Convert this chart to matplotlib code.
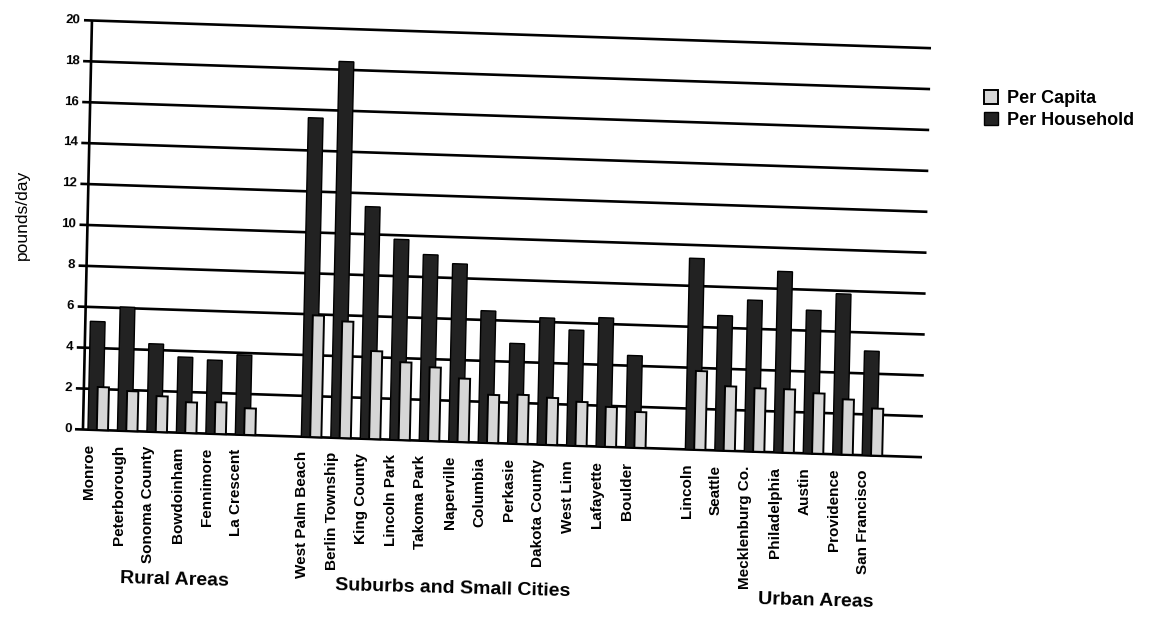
import numpy as np
import matplotlib
matplotlib.use('Agg')
import matplotlib.pyplot as plt
from matplotlib.transforms import Affine2D

plt.rcParams['font.family'] = ['Liberation Sans', 'DejaVu Sans']

# pounds/day
rural = ['Monroe', 'Peterborough', 'Sonoma County', 'Bowdoinham', 'Fennimore', 'La Crescent']
rural_household = [5.3, 6.05, 4.3, 3.7, 3.6, 3.9]
rural_capita = [2.1, 1.95, 1.75, 1.5, 1.55, 1.3]

suburbs = ['West Palm Beach', 'Berlin Township', 'King County', 'Lincoln Park',
           'Takoma Park', 'Naperville', 'Columbia', 'Perkasie', 'Dakota County',
           'West Linn', 'Lafayette', 'Boulder']
suburbs_household = [15.6, 18.4, 11.35, 9.8, 9.1, 8.7, 6.45, 4.9, 6.2, 5.65, 6.3, 4.5]
suburbs_capita = [5.95, 5.7, 4.3, 3.8, 3.6, 3.1, 2.35, 2.4, 2.3, 2.15, 1.95, 1.75]

urban = ['Lincoln', 'Seattle', 'Mecklenburg Co.', 'Philadelphia', 'Austin',
         'Providence', 'San Francisco']
urban_household = [9.35, 6.6, 7.4, 8.85, 7.0, 7.85, 5.1]
urban_capita = [3.85, 3.15, 3.1, 3.1, 2.95, 2.7, 2.3]

group_names = ['Rural Areas', 'Suburbs and Small Cities', 'Urban Areas']
yticks = np.arange(0, 21, 2)

groups = [(rural, rural_household, rural_capita),
          (suburbs, suburbs_household, suburbs_capita),
          (urban, urban_household, urban_capita)]
group_start = [0, 7.24, 20.27]
group_label_x = [3.06, 12.5, 24.8]

fig = plt.figure(figsize=(11.57, 6.34), dpi=100)
ax = fig.add_axes([75 / 1157, 198 / 634, 847 / 1157, 409 / 634])
ax.axis('off')

# the scanned page is skewed: gridlines fall to the right, verticals lean right
skew = (Affine2D().translate(-280, -198)
        + Affine2D(np.array([[1, 0.022, 0], [-0.033, 1, 0], [0, 0, 1]]))
        + Affine2D().translate(280, 198))
tr = ax.transData + skew

xlo, xhi = -0.44, 28.3

for (names, hh, pc), start in zip(groups, group_start):
    pos = start + np.arange(len(names))
    b1 = ax.bar(pos, hh, width=0.5, align='edge', color='#222222',
                edgecolor='black', linewidth=1, zorder=3)
    b2 = ax.bar(pos + 0.3, pc, width=0.38, align='edge', color='#d6d6d6',
                edgecolor='black', linewidth=1.4, zorder=4)
    for p in list(b1) + list(b2):
        p.set_transform(tr)
        p.set_clip_on(False)
    for x, name in zip(pos, names):
        ax.text(x + 0.05, -0.7, name, rotation=90, ha='center', va='top',
                fontsize=11, fontweight='bold', transform=tr)

ax.set_xlim(xlo, xhi)
ax.set_ylim(0, 20)

ax.hlines(yticks, xlo, xhi, colors='black', linewidth=1.9, transform=tr,
          clip_on=False, zorder=1)
ax.vlines(-0.17, 0, 20, colors='black', linewidth=1.9, transform=tr,
          clip_on=False, zorder=2)

for v in yticks:
    ax.text(xlo - 0.12, v, str(v), ha='right', va='center', fontsize=9.5,
            fontweight='bold', rotation=-1.5, rotation_mode='anchor', transform=tr)

for gx, gname in zip(group_label_x, group_names):
    ax.text(gx, -7.2, gname, ha='center', va='center', fontsize=14,
            fontweight='bold', rotation=-1.5, transform=tr)

fig.text(22 / 1157, 1 - 215 / 634, 'pounds/day', rotation=90, ha='center',
         va='center', fontsize=12.5)

fig.legend([b2, b1], ['Per Capita', 'Per Household'], loc='upper left',
           bbox_to_anchor=(968 / 1157, 1 - 74 / 634), frameon=False,
           handlelength=0.75, handleheight=0.75, handletextpad=0.5,
           labelspacing=0.25, prop={'size': 13, 'weight': 'bold'})

fig.savefig('out.png', dpi=100)
